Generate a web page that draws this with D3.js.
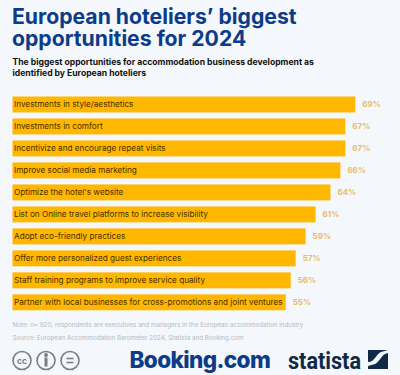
<!DOCTYPE html>
<html>
<head>
<meta charset="utf-8">
<script src="https://cdn.jsdelivr.net/npm/d3@7"></script>
<style>
html, body { margin: 0; padding: 0; background: #f4f7fb; }
svg { display: block; }
text { font-family: Inter, "Noto Sans", sans-serif; }
</style>
</head>
<body>
<div id="chart"></div>
<script>
var categories = [
    "Investments in style/aesthetics",
    "Investments in comfort",
    "Incentivize and encourage repeat visits",
    "Improve social media marketing",
    "Optimize the hotel's website",
    "List on Online travel platforms to increase visibility",
    "Adopt eco-friendly practices",
    "Offer more personalized guest experiences",
    "Staff training programs to improve service quality",
    "Partner with local businesses for cross-promotions and joint ventures"
];
var values = [69, 67, 67, 66, 64, 61, 59, 57, 56, 55];
var titleLines = ["European hoteliers\u2019 biggest", "opportunities for 2024"];
var subtitleLines = ["The biggest opportunities for accommodation business development as", "identified by European hoteliers"];
var footLines = ["Note: n= 920; respondents are executives and managers in the European accommodation industry", "Source: European Accommodation Barometer 2024, Statista and Booking.com"];

var width = 400, height = 375;

var svg = d3.select("#chart")
    .append("svg")
    .attr("width", width)
    .attr("height", height);

svg.append("rect")
    .attr("width", width)
    .attr("height", height)
    .attr("fill", "#f4f7fb");

svg.selectAll(".title")
    .data(titleLines)
    .join("text")
    .attr("class", "title")
    .attr("x", 12)
    .attr("y", function (d, i) { return 23.5 + i * 22; })
    .attr("font-size", 21.2)
    .attr("font-weight", 700)
    .attr("fill", "#0c3b87")
    .text(function (d) { return d; });

svg.selectAll(".subtitle")
    .data(subtitleLines)
    .join("text")
    .attr("class", "subtitle")
    .attr("x", 12.5)
    .attr("y", function (d, i) { return 64.5 + i * 11.5; })
    .attr("font-size", 8.6)
    .attr("font-weight", 700)
    .attr("fill", "#111")
    .text(function (d) { return d; });

var x = d3.scaleLinear().domain([0, 69]).range([12.5, 355.3]);
var y = d3.scaleBand().domain(categories).range([96.5, 310.3]).paddingInner(0.275);

var rows = svg.selectAll(".row")
    .data(categories)
    .join("g")
    .attr("class", "row");

rows.append("rect")
    .attr("x", x(0))
    .attr("y", function (d) { return y(d); })
    .attr("width", function (d, i) { return x(values[i]) - x(0); })
    .attr("height", y.bandwidth())
    .attr("fill", "#ffb700");

rows.append("text")
    .attr("x", 14)
    .attr("y", function (d) { return y(d) + y.bandwidth() / 2 + 2.9; })
    .attr("font-size", 8.2)
    .attr("fill", "#4a3000")
    .text(function (d) { return d; });

rows.append("text")
    .attr("x", function (d, i) { return x(values[i]) + 7; })
    .attr("y", function (d) { return y(d) + y.bandwidth() / 2 + 2.9; })
    .attr("font-size", 8)
    .attr("font-weight", 700)
    .attr("fill", "#e9bd66")
    .text(function (d, i) { return values[i] + "%"; });

svg.selectAll(".foot")
    .data(footLines)
    .join("text")
    .attr("class", "foot")
    .attr("x", 12.5)
    .attr("y", function (d, i) { return 327 + i * 12.5; })
    .attr("font-size", 6.25)
    .attr("fill", "#b4bac2")
    .text(function (d) { return d; });

// licence icons
var icons = svg.append("g").attr("stroke", "#7a7f86").attr("fill", "none").attr("stroke-width", 1.6);
[22, 46, 70].forEach(function (cx) {
    icons.append("circle").attr("cx", cx).attr("cy", 360.5).attr("r", 9);
});
svg.append("text").attr("x", 22).attr("y", 363.5).attr("text-anchor", "middle")
    .attr("font-size", 8.5).attr("font-weight", 700).attr("fill", "#7a7f86").text("cc");
icons.append("circle").attr("cx", 46).attr("cy", 355).attr("r", 1.2).attr("fill", "#7a7f86");
icons.append("line").attr("x1", 46).attr("x2", 46).attr("y1", 357.5).attr("y2", 366.5).attr("stroke-width", 3);
icons.append("line").attr("x1", 66.5).attr("x2", 73.5).attr("y1", 358.5).attr("y2", 358.5);
icons.append("line").attr("x1", 66.5).attr("x2", 73.5).attr("y1", 362.5).attr("y2", 362.5);

svg.append("text").attr("x", 129.5).attr("y", 367.5)
    .attr("font-size", 22.5).attr("font-weight", 800).attr("fill", "#0c3b87")
    .attr("letter-spacing", -0.6).text("Booking.com");

// statista wordmark and square
svg.append("text").attr("x", 288).attr("y", 369)
    .attr("font-size", 23).attr("font-weight", 700).attr("fill", "#0f2a47")
    .style("font-family", "Roboto")
    .attr("textLength", 73).attr("lengthAdjust", "spacingAndGlyphs").text("statista");
svg.append("rect").attr("x", 368).attr("y", 350).attr("width", 20).attr("height", 19).attr("fill", "#0f2a47");
svg.append("path")
    .attr("d", "M368 362 C375 362 376 354 381 352 L388 350 L388 353 C381 354 380 362 375 364 L368 366 Z")
    .attr("fill", "#f4f7fb");
</script>
</body>
</html>
